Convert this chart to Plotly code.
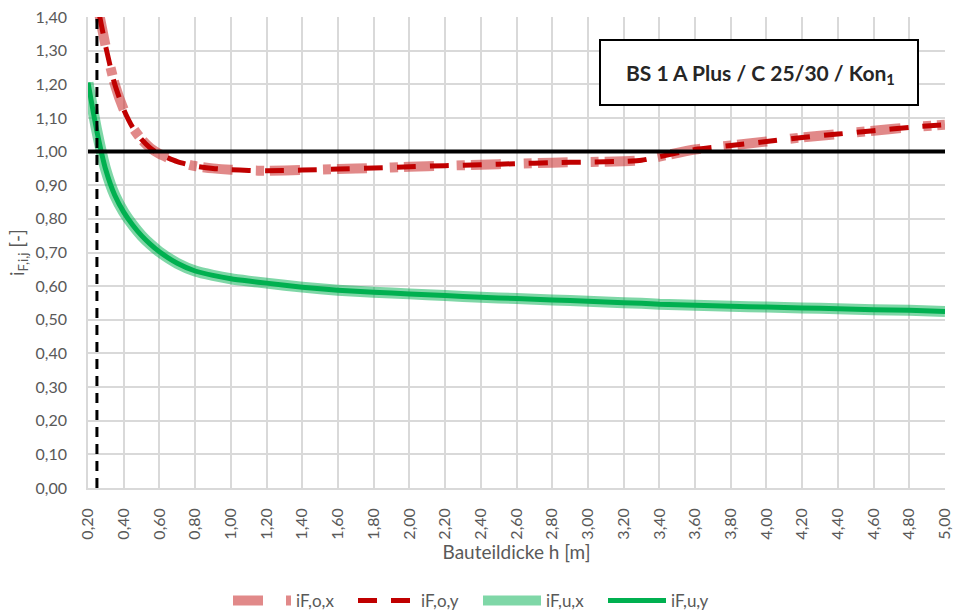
import plotly.graph_objects as go

# Bauteildicke h [m]
h = [0.20, 0.25, 0.30, 0.35, 0.40, 0.45, 0.50, 0.55, 0.60, 0.70, 0.80, 0.90,
     1.00, 1.10, 1.20, 1.40, 1.60, 1.80, 2.00, 2.20, 2.40, 2.60, 2.80, 3.00,
     3.20, 3.30, 3.40, 3.60, 3.80, 4.00, 4.20, 4.40, 4.60, 4.80, 5.00]

# Ausnutzungsgrad oben (x- und y-Richtung)
i_F_o_x = [1.600, 1.445, 1.310, 1.200, 1.125, 1.072, 1.036, 1.010, 0.993, 0.970,
           0.957, 0.950, 0.946, 0.944, 0.943, 0.945, 0.948, 0.951, 0.955, 0.958,
           0.961, 0.964, 0.967, 0.969, 0.971, 0.974, 0.985, 1.006, 1.018, 1.030,
           1.042, 1.052, 1.062, 1.072, 1.080]
i_F_o_y = [1.600, 1.445, 1.310, 1.200, 1.125, 1.072, 1.036, 1.010, 0.993, 0.970,
           0.957, 0.950, 0.946, 0.944, 0.943, 0.945, 0.948, 0.951, 0.955, 0.958,
           0.961, 0.964, 0.967, 0.969, 0.971, 0.974, 0.985, 1.006, 1.018, 1.030,
           1.042, 1.052, 1.062, 1.072, 1.080]

# Ausnutzungsgrad unten (x- und y-Richtung)
i_F_u_x = [1.205, 1.060, 0.945, 0.870, 0.820, 0.782, 0.750, 0.724, 0.702, 0.668,
           0.645, 0.632, 0.622, 0.615, 0.609, 0.597, 0.588, 0.582, 0.577, 0.572,
           0.567, 0.563, 0.559, 0.555, 0.551, 0.549, 0.546, 0.543, 0.540, 0.538,
           0.535, 0.533, 0.530, 0.528, 0.525]
i_F_u_y = [1.205, 1.060, 0.945, 0.870, 0.820, 0.782, 0.750, 0.724, 0.702, 0.668,
           0.645, 0.632, 0.622, 0.615, 0.609, 0.597, 0.588, 0.582, 0.577, 0.572,
           0.567, 0.563, 0.559, 0.555, 0.551, 0.549, 0.546, 0.543, 0.540, 0.538,
           0.535, 0.533, 0.530, 0.528, 0.525]

# Grenzwert und Mindestdicke
limit = 1.00
h_min = 0.25
y_max = 1.40
x_range = [0.20, 5.00]

title_text = "<b>BS 1 A Plus / C 25/30 / Kon<sub>1</sub></b>"

FONT = "Lato"
GREY = "#595959"
GRID = "#D9D9D9"

fig = go.Figure()

fig.add_trace(go.Scatter(
    x=h, y=i_F_o_x, name="iF,o,x", mode="lines",
    line=dict(color="rgba(200,40,40,0.55)", width=10, dash="30px,23px,8px,6px",
              shape="spline", smoothing=0.6)))
fig.add_trace(go.Scatter(
    x=h, y=i_F_o_y, name="iF,o,y", mode="lines",
    line=dict(color="#C00000", width=5, dash="19px,14px",
              shape="spline", smoothing=0.6)))
fig.add_trace(go.Scatter(
    x=h, y=i_F_u_x, name="iF,u,x", mode="lines",
    line=dict(color="rgba(0,176,80,0.5)", width=11, shape="spline", smoothing=0.6)))
fig.add_trace(go.Scatter(
    x=h, y=i_F_u_y, name="iF,u,y", mode="lines",
    line=dict(color="#00B050", width=5, shape="spline", smoothing=0.6)))

# Grenzlinie i = 1,00
fig.add_trace(go.Scatter(
    x=x_range, y=[limit, limit], mode="lines", showlegend=False, hoverinfo="skip",
    line=dict(color="black", width=4)))
# Mindestbauteildicke
fig.add_trace(go.Scatter(
    x=[h_min, h_min], y=[0, y_max], mode="lines", showlegend=False, hoverinfo="skip",
    line=dict(color="black", width=3, dash="10px,7px")))

# plot area in pixels: x 88..945, y 17..488
L, R, T, B = 88, 10, 17, 126
W, H = 955, 614
pw, ph = W - L - R, H - T - B


def px_x(p):
    return (p - L) / pw


def px_y(p):
    return (H - B - p) / ph


fig.add_shape(type="rect", xref="paper", yref="paper",
              x0=px_x(600), x1=px_x(918), y0=px_y(105), y1=px_y(40),
              line=dict(color="black", width=2), fillcolor="white", layer="above")
fig.add_annotation(xref="paper", yref="paper", x=px_x(760), y=px_y(74),
                   xanchor="center", yanchor="middle",
                   text=title_text, showarrow=False,
                   font=dict(family=FONT, size=21, color="#262626"))

fig.update_layout(
    width=W, height=H,
    margin=dict(l=L, r=R, t=T, b=B, autoexpand=False),
    paper_bgcolor="white", plot_bgcolor="white",
    separators=", ",
    font=dict(family=FONT, size=16, color=GREY),
    showlegend=True,
    legend=dict(orientation="h", x=px_x(228), xanchor="left",
                y=px_y(601), yanchor="middle",
                itemwidth=58, entrywidth=52,
                font=dict(family=FONT, size=17, color=GREY),
                bgcolor="rgba(0,0,0,0)"),
)

fig.update_xaxes(
    range=x_range, dtick=0.2, tick0=0.2, tickformat=".2f", tickangle=-90,
    showgrid=True, gridcolor=GRID, gridwidth=1.5,
    showline=True, linecolor=GRID, linewidth=1.5,
    zeroline=False, ticks="", ticklabelstandoff=12, automargin=False,
    tickfont=dict(family=FONT, size=16, color=GREY),
    title=dict(text="Bauteildicke h [m]", standoff=2,
               font=dict(family=FONT, size=19, color=GREY)),
)
fig.update_yaxes(
    range=[0, y_max], dtick=0.1, tick0=0, tickformat=".2f",
    showgrid=True, gridcolor=GRID, gridwidth=1.5,
    showline=True, linecolor=GRID, linewidth=1.5,
    zeroline=False, ticks="", ticklabelstandoff=16, automargin=False,
    tickfont=dict(family=FONT, size=16, color=GREY),
    title=dict(text="i<sub>F,i,j</sub> [-]", standoff=6,
               font=dict(family=FONT, size=19, color=GREY)),
)

fig.write_html("out.html")
